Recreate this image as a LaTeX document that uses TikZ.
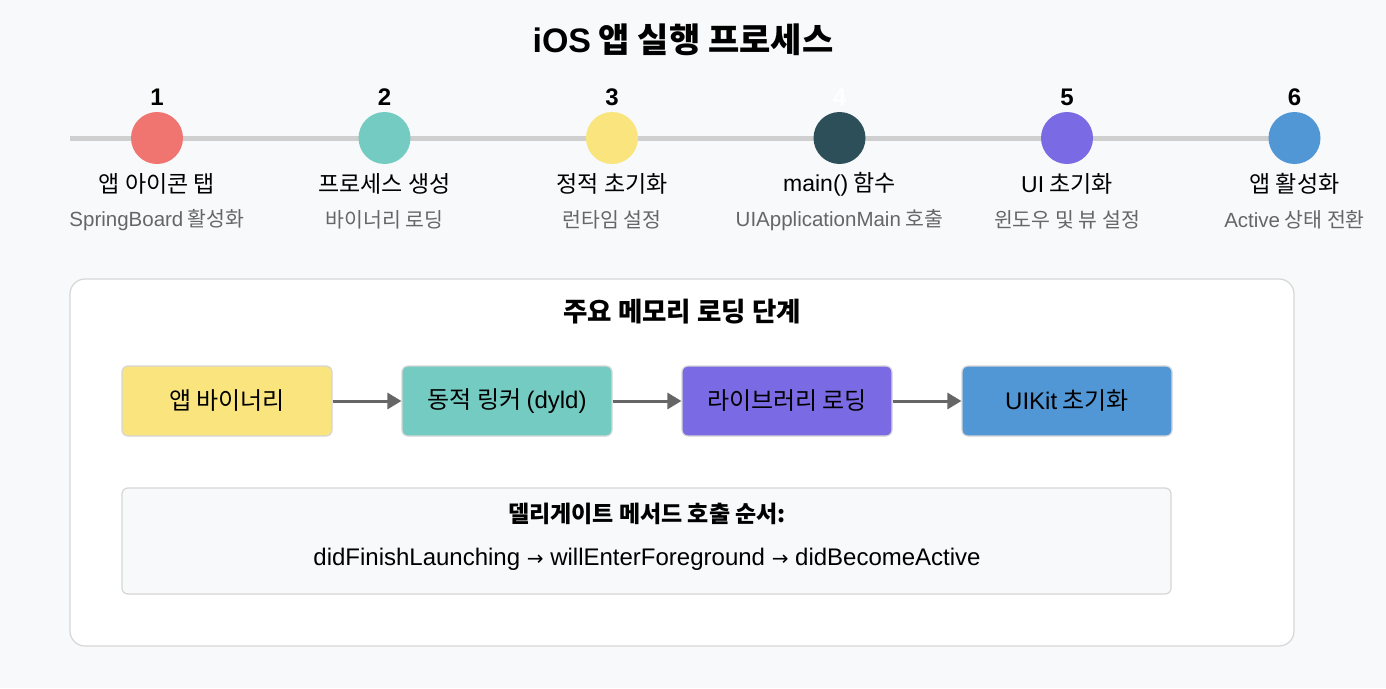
\documentclass[tikz,border=0pt]{standalone}
\usepackage{fontspec}
\setmainfont{Noto Sans CJK KR}
\newfontfamily\lat{Liberation Sans}
\newfontfamily\sym{DejaVu Sans}
\newcommand{\latn}[1]{{\lat #1}}
\newcommand{\nxt}{{\sym\fontsize{20}{24}\selectfont →}}
\usetikzlibrary{arrows.meta}
\definecolor{bggray}{HTML}{F8F9FA}
\definecolor{linegray}{HTML}{CFCFCF}
\definecolor{edgegray}{HTML}{D6D6D6}
\definecolor{subgray}{HTML}{666666}
\definecolor{arrgray}{HTML}{666666}
\definecolor{cred}{HTML}{F07470}
\definecolor{cteal}{HTML}{74CBC1}
\definecolor{cyellow}{HTML}{F9E47D}
\definecolor{cdark}{HTML}{2C4F5A}
\definecolor{cpurple}{HTML}{7A6AE4}
\definecolor{cblue}{HTML}{5196D5}
\tikzset{
  dot/.style={circle,minimum size=52pt,inner sep=0pt},
  stagebox/.style={draw=edgegray,line width=1.2pt,rounded corners=6pt,minimum width=210pt,minimum height=70pt,font=\fontsize{24}{28}\selectfont},
  flow/.style={draw=arrgray,line width=3pt,-{Triangle[length=14pt,width=16pt]}}
}
\begin{document}
\begin{tikzpicture}[x=1pt,y=-1pt]
\fill[bggray] (0,0) rectangle (1386,688);
\useasboundingbox (0,0) rectangle (1386,688);
\node[font=\fontsize{34}{40}\selectfont\bfseries] (title) at (683,40) {\latn{iOS} 앱 실행 프로세스};

% timeline
\coordinate (tl) at (70,138);
\coordinate (tr) at (1310,138);
\draw[linegray,line width=5pt] (tl) -- (tr);
\foreach \n/\x/\col/\ncol/\main/\sub in {
  1/157/cred/black/앱 아이콘 탭/\latn{SpringBoard} 활성화,
  2/384.5/cteal/black/프로세스 생성/바이너리 로딩,
  3/612/cyellow/black/정적 초기화/런타임 설정,
  4/839.5/cdark/white/\latn{main()} 함수/\latn{UIApplicationMain} 호출,
  5/1067/cpurple/black/\latn{UI} 초기화/윈도우 및 뷰 설정,
  6/1294.5/cblue/black/앱 활성화/\latn{Active} 상태 전환} {
  \node[dot,fill=\col] (d\n) at (\x,138) {};
  \node[text=\ncol,font=\lat\fontsize{24}{28}\selectfont\bfseries] (n\n) at (\x,97) {\n};
  \node[font=\fontsize{23}{27}\selectfont] (m\n) at (\x,184) {\main};
  \node[text=subgray,font=\fontsize{20.5}{24}\selectfont] (s\n) at (\x,220) {\sub};
}

% memory loading panel
\draw[edgegray,fill=white,line width=1.2pt,rounded corners=15pt] (70,279) rectangle (1294,646);
\node[font=\fontsize{26.5}{30}\selectfont\bfseries] (memtitle) at (682,312) {주요 메모리 로딩 단계};
\node[stagebox,fill=cyellow] (b1) at (227,401) {앱 바이너리};
\node[stagebox,fill=cteal] (b2) at (507,401) {동적 링커 \latn{(dyld)}};
\node[stagebox,fill=cpurple] (b3) at (787,401) {라이브러리 로딩};
\node[stagebox,fill=cblue] (b4) at (1067,401) {\latn{UIKit} 초기화};
\draw[flow] (b1) -- (b2);
\draw[flow] (b2) -- (b3);
\draw[flow] (b3) -- (b4);

% delegate order
\draw[edgegray,fill=bggray,line width=1.2pt,rounded corners=6pt] (122,488) rectangle (1171,594);
\node[font=\fontsize{23}{27}\selectfont\bfseries] (deltitle) at (647,514) {델리게이트 메서드 호출 순서:};
\node[font=\lat\fontsize{24}{28}\selectfont] (delorder) at (647,559) {didFinishLaunching \nxt{} willEnterForeground \nxt{} didBecomeActive};
\end{tikzpicture}
\end{document}
